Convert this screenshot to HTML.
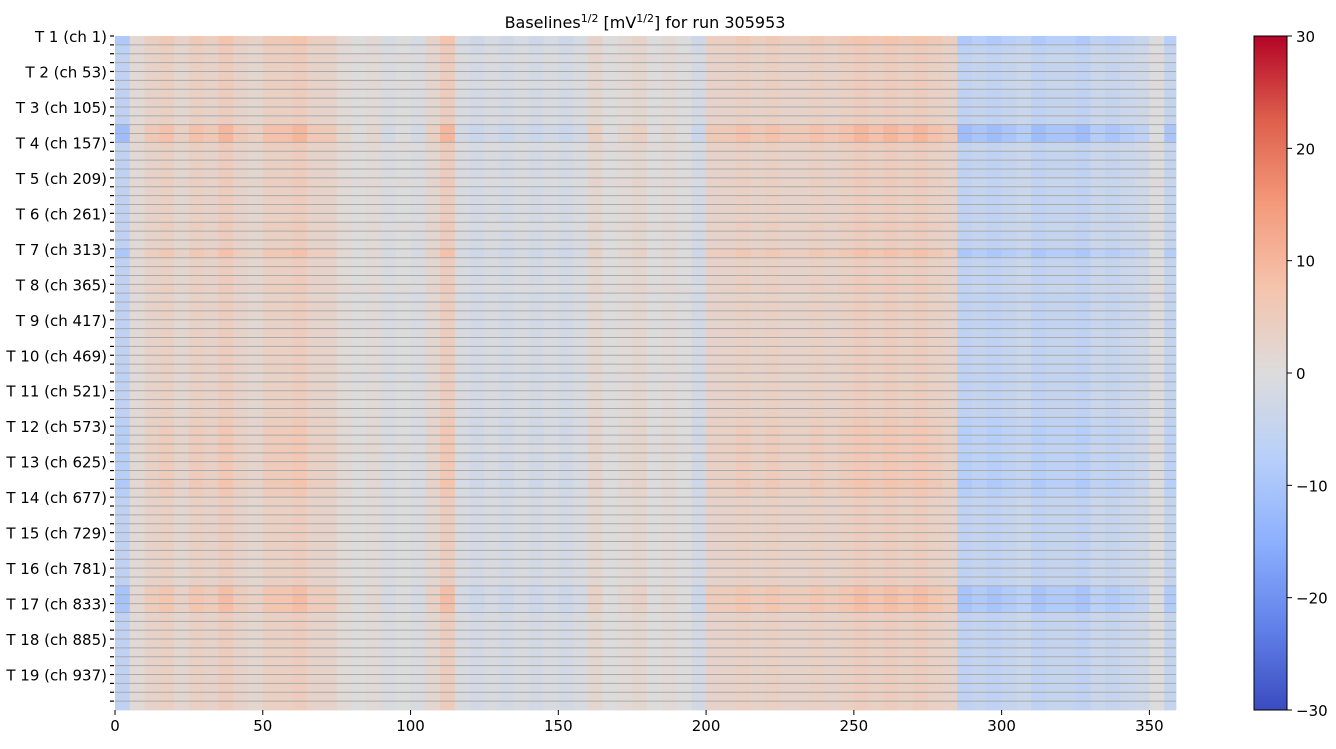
<!DOCTYPE html>
<html><head><meta charset="utf-8">
<style>
body{margin:0;background:#fff;font-family:"Liberation Sans","DejaVu Sans",sans-serif;}
svg text{font-family:"DejaVu Sans","Liberation Sans",sans-serif;fill:#000;}
</style></head>
<body>
<svg id="chart" width="1336" height="744" xmlns="http://www.w3.org/2000/svg">
<defs>
<linearGradient id="cbg" x1="0" y1="1" x2="0" y2="0">
<stop offset="0" stop-color="rgb(59,76,192)"/>
<stop offset="0.125" stop-color="rgb(98,130,234)"/>
<stop offset="0.25" stop-color="rgb(141,176,254)"/>
<stop offset="0.375" stop-color="rgb(184,208,249)"/>
<stop offset="0.5" stop-color="rgb(221,220,220)"/>
<stop offset="0.625" stop-color="rgb(245,196,173)"/>
<stop offset="0.75" stop-color="rgb(244,154,123)"/>
<stop offset="0.875" stop-color="rgb(222,96,77)"/>
<stop offset="1" stop-color="rgb(180,4,38)"/>
</linearGradient>
</defs>
<text x="645" y="28" font-size="16" text-anchor="middle">Baselines<tspan font-size="11" dy="-6">1/2</tspan><tspan dy="6"> [mV</tspan><tspan font-size="11" dy="-6">1/2</tspan><tspan dy="6">] for run 305953</tspan></text>
<g id="cells"></g>
<g id="grid"></g>
<g id="yaxis"></g>
<g id="xaxis"></g>
<rect x="1254" y="36" width="33" height="674" fill="url(#cbg)" stroke="#000" stroke-width="1"/>
<g id="cbaxis"></g>
</svg>
<script>
// column bins of 5 units (x 0..359)
const colBins = [-6,1,3,4,2,4,3,5,3,2,4,4,5,3,3,1,0,1,-1,0,-1,2,5,-1,-2,-1,-2,-1,-2,-1,-2,-1,2,0,1,2,0,1,0,-2,3,3,4,3,4,3,3,4,3,4,5,4,5,4,5,4,3,-6,-5,-6,-5,-4,-6,-5,-5,-6,-4,-5,-4,-3,0,-5];
// row groups (13 channels each), 76 groups
const rowGain = [1.5,1.1,1,1,1,1,1,1,1,1,2,2,1,1,1,1,1,1,1,1,1,1,1,1,1.6,1,1,1,1,1,1,1,1,1,1,1,1,1,1,1,1,1,1,1.2,1.3,1.3,1.2,1.3,1.3,1.3,1.5,1.3,1,1,1,1,1,1,1,1,1,1,1.7,1.8,1.7,1,1,1,1,1,1,1,1,1,1,1];
const rowOffset = [0,0,0.5,0,0,0.5,0,0,0,0,0,0,0.5,0,0,0,0.5,0,0,0,0,0.5,0,0,0,0,0,0,0.5,-0.5,0,0,-0.5,0,0,0,0,0,-0.5,0,0,0,0,0,0,0,0.5,0,0,0,0,0,0,0,0,0,0,0,0,0,0,0,0,0,0,0,0,0,0,0,0,0,0,0,0,0];
const tileLabels = ["T 1 (ch 1)","T 2 (ch 53)","T 3 (ch 105)","T 4 (ch 157)","T 5 (ch 209)","T 6 (ch 261)","T 7 (ch 313)","T 8 (ch 365)","T 9 (ch 417)","T 10 (ch 469)","T 11 (ch 521)","T 12 (ch 573)","T 13 (ch 625)","T 14 (ch 677)","T 15 (ch 729)","T 16 (ch 781)","T 17 (ch 833)","T 18 (ch 885)","T 19 (ch 937)"];
const xTicks = [0,50,100,150,200,250,300,350];
const cbTicks = [30,20,10,0,-10,-20,-30];

const NS="http://www.w3.org/2000/svg";
const X0=115,X1=1176,Y0=36,Y1=710,XMAX=359,NG=76;
const xs=v=>X0+(v/XMAX)*(X1-X0);
const ys=g=>Y0+(g/NG)*(Y1-Y0);
const cbY=v=>Y1-(v+30)/60*(Y1-Y0);
const stops=[[59,76,192],[98,130,234],[141,176,254],[184,208,249],[221,220,220],[245,196,173],[244,154,123],[222,96,77],[180,4,38]];
function cmap(v){let t=Math.max(0,Math.min(1,(v+30)/60))*8;let i=Math.min(7,Math.floor(t)),f=t-i;
const a=stops[i],b=stops[i+1];return `rgb(${a.map((c,k)=>Math.round(c+(b[k]-c)*f)).join(',')})`;}
function mk(tag,attrs,parent){const e=document.createElementNS(NS,tag);for(const k in attrs)e.setAttribute(k,attrs[k]);parent.appendChild(e);return e;}
const cells=document.getElementById('cells');
for(let g=0;g<NG;g++){for(let c=0;c<colBins.length;c++){
  const v=colBins[c]*rowGain[g]+rowOffset[g];
  const x0=xs(c*5),x1=xs(Math.min(XMAX,(c+1)*5));
  const r=mk('rect',{x:x0,y:ys(g),width:x1-x0+0.4,height:ys(g+1)-ys(g)+0.4,fill:cmap(v)},cells);
  
  
}}
const grid=document.getElementById('grid');
for(let g=1;g<NG;g++){const l=mk('line',{x1:X0,x2:X1,y1:ys(g),y2:ys(g),stroke:'#aaaaaa','stroke-width':1},grid);
  
  }
const ya=document.getElementById('yaxis');
for(let g=0;g<NG;g++){const t=mk('line',{x1:X0-5,x2:X0-1,y1:ys(g),y2:ys(g),stroke:'#000','stroke-width':1.2},ya);
  
  }
tileLabels.forEach((s,i)=>{const t=mk('text',{x:X0-8,y:ys(i*4)+6,'font-size':15,'text-anchor':'end'},ya);t.textContent=s;
  
  });
const xa=document.getElementById('xaxis');
xTicks.forEach(v=>{const l=mk('line',{x1:xs(v),x2:xs(v),y1:Y1,y2:Y1+5,stroke:'#000','stroke-width':1},xa);
  
  
  const t=mk('text',{x:xs(v),y:Y1+21,'font-size':15,'text-anchor':'middle'},xa);t.textContent=v;
  
  });
const cb=document.getElementById('cbaxis');
cbTicks.forEach(v=>{const l=mk('line',{x1:1287,x2:1292,y1:cbY(v),y2:cbY(v),stroke:'#000','stroke-width':1},cb);
  
  
  const t=mk('text',{x:1296,y:cbY(v)+6,'font-size':15},cb);t.textContent=v<0?'\u2212'+(-v):v;
  
  });
</script>
</body></html>
